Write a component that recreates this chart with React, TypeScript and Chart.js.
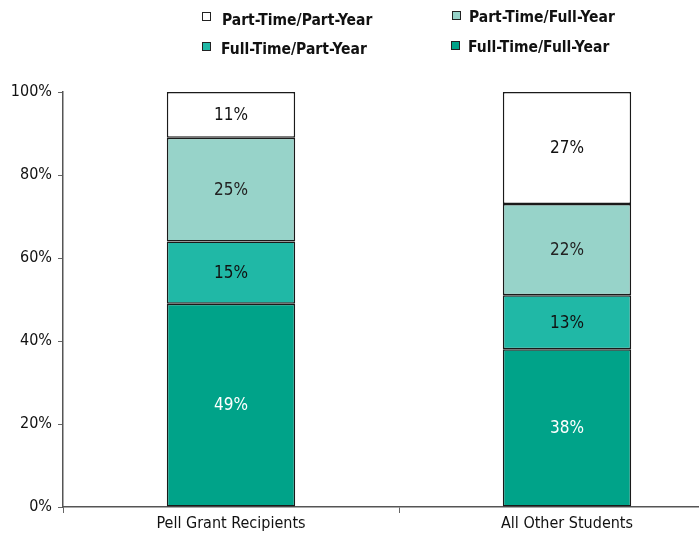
import React, { useEffect, useRef } from "react";
import { Chart, registerables } from "chart.js";

Chart.register(...registerables);

const categories = ["Pell Grant Recipients", "All Other Students"];
const seriesNames = ["Full-Time/Full-Year", "Full-Time/Part-Year", "Part-Time/Full-Year", "Part-Time/Part-Year"];
const fullTimeFullYear = [49, 38];
const fullTimePartYear = [15, 13];
const partTimeFullYear = [25, 22];
const partTimePartYear = [11, 27];
const seriesColors = ["#00a389", "#20b8a6", "#97d3c9", "#ffffff"];
const labelColors = ["#ffffff", "#111111", "#222222", "#111111"];
const yTicks = [0, 20, 40, 60, 80, 100];

const FONT = "'Liberation Sans Narrow', 'DejaVu Sans Condensed', 'Arial Narrow', sans-serif";

// legend layout: [seriesIndex, boxX, boxY, textX, baselineY]
const legendLayout: [number, number, number, number, number][] = [
  [3, 202, 12, 222, 25],
  [2, 452, 11, 469, 22],
  [1, 202, 42, 221, 54],
  [0, 451, 41, 468, 52],
];

const overlayPlugin = {
  id: "overlay",
  afterDatasetsDraw(chart: any) {
    const ctx = chart.ctx;
    ctx.save();
    chart.data.datasets.forEach((ds: any, di: number) => {
      const meta = chart.getDatasetMeta(di);
      meta.data.forEach((bar: any, i: number) => {
        const v = ds.data[i];
        const y = (bar.y + bar.base) / 2;
        ctx.fillStyle = labelColors[di];
        ctx.font = `17px ${FONT}`;
        ctx.textAlign = "center";
        ctx.textBaseline = "middle";
        ctx.fillText(`${v}%`, bar.x, y + 1);
      });
    });
    legendLayout.forEach(([si, bx, by, tx, ty]) => {
      ctx.fillStyle = seriesColors[si];
      ctx.fillRect(bx, by, 9, 9);
      ctx.strokeStyle = "#222";
      ctx.lineWidth = 1;
      ctx.strokeRect(bx + 0.5, by + 0.5, 8, 8);
      ctx.fillStyle = "#111";
      ctx.font = `bold 15.5px ${FONT}`;
      ctx.textAlign = "left";
      ctx.textBaseline = "alphabetic";
      ctx.fillText(seriesNames[si], tx, ty);
    });
    ctx.restore();
  },
};

export default function App() {
  const ref = useRef<HTMLCanvasElement>(null);
  useEffect(() => {
    if (!ref.current) return;
    const data = [fullTimeFullYear, fullTimePartYear, partTimeFullYear, partTimePartYear];
    const chart = new Chart(ref.current, {
      type: "bar",
      data: {
        labels: categories,
        datasets: data.map((d, i) => ({
          label: seriesNames[i],
          data: d,
          backgroundColor: seriesColors[i],
          borderColor: "#1a1a1a",
          borderWidth: 1.5,
          borderSkipped: false,
          categoryPercentage: 1,
          barPercentage: 0.382,
        })),
      },
      options: {
        animation: false,
        responsive: false,
        maintainAspectRatio: false,
        layout: { padding: { top: 92, left: 0, right: 7, bottom: 0 } },
        plugins: { legend: { display: false }, tooltip: { enabled: false } },
        scales: {
          x: {
            stacked: true,
            grid: { drawOnChartArea: false, tickLength: 6, color: "#666", offset: true },
            border: { color: "#555", width: 1.5 },
            ticks: { color: "#111", font: { family: FONT, size: 16 }, padding: 1 },
            afterFit: (s: any) => { s.height = 26; },
          },
          y: {
            stacked: true,
            min: 0,
            max: 100,
            afterBuildTicks: (s: any) => { s.ticks = yTicks.map((v) => ({ value: v })); },
            grid: { drawOnChartArea: false, tickLength: 5, color: "#666" },
            border: { color: "#555", width: 1.5 },
            ticks: { color: "#111", font: { family: FONT, size: 16 }, padding: 6, callback: (v: any) => `${v}%` },
            afterFit: (s: any) => { s.width = 63; },
          },
        },
      },
      plugins: [overlayPlugin],
    });
    return () => chart.destroy();
  }, []);
  return (
    <div style={{ position: "fixed", left: 0, top: 0, width: 699, height: 533, overflow: "hidden", background: "#fff" }}>
      <canvas ref={ref} width={742} height={533} style={{ width: 742, height: 533, display: "block" }} />
    </div>
  );
}
